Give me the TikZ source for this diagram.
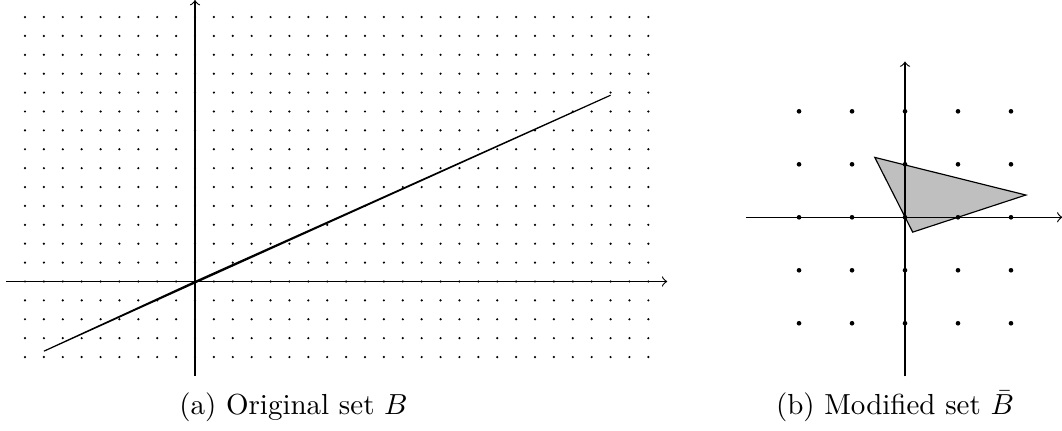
\documentclass[tikz,border=0pt]{standalone}
\begin{document}
\begin{tikzpicture}[x=0.3448pt,y=-0.3448pt,
  smalldot/.style={fill=black},
  bigdot/.style={fill=black},
  setfill/.style={draw=black,fill=gray!50,line join=miter}]
\useasboundingbox (0,0) rectangle (1062,431);
% (a) original set
\begin{scope}[shift={(195,281.5)},x=6.513pt,y=6.513pt]
  \coordinate (A1) at (-8,-3.69);
  \coordinate (A2) at (0,0);
  \coordinate (A3) at (22,9.86);
  \foreach \i in {-9,...,24} \foreach \j in {-4,...,14} \fill[smalldot] (\i,\j) circle[radius=0.42pt];
  \draw[->] (-10,0) -- (25,0);
  \draw[->] (0,-5) -- (0,14.9);
  \draw[setfill] (A1) -- (A2) -- (A3) -- cycle;
\end{scope}
% (b) modified set
\begin{scope}[shift={(905,217.3)},x=18.27pt,y=18.27pt]
  \coordinate (B1) at (-0.57,1.13);
  \coordinate (B2) at (2.28,0.42);
  \coordinate (B3) at (0.145,-0.28);
  \draw[setfill] (B1) -- (B2) -- (B3) -- cycle;
  \draw[->] (-3,0) -- (2.97,0);
  \draw[->] (0,-3) -- (0,2.94);
  \foreach \i in {-2,...,2} \foreach \j in {-2,...,2} \fill[bigdot] (\i,\j) circle[radius=0.8pt];
\end{scope}
\node[anchor=base] (capa) at (293.5,415) {(a) Original set $B$};
\node[anchor=base] (capb) at (895,415) {(b) Modified set $\bar{B}$};
\end{tikzpicture}
\end{document}
